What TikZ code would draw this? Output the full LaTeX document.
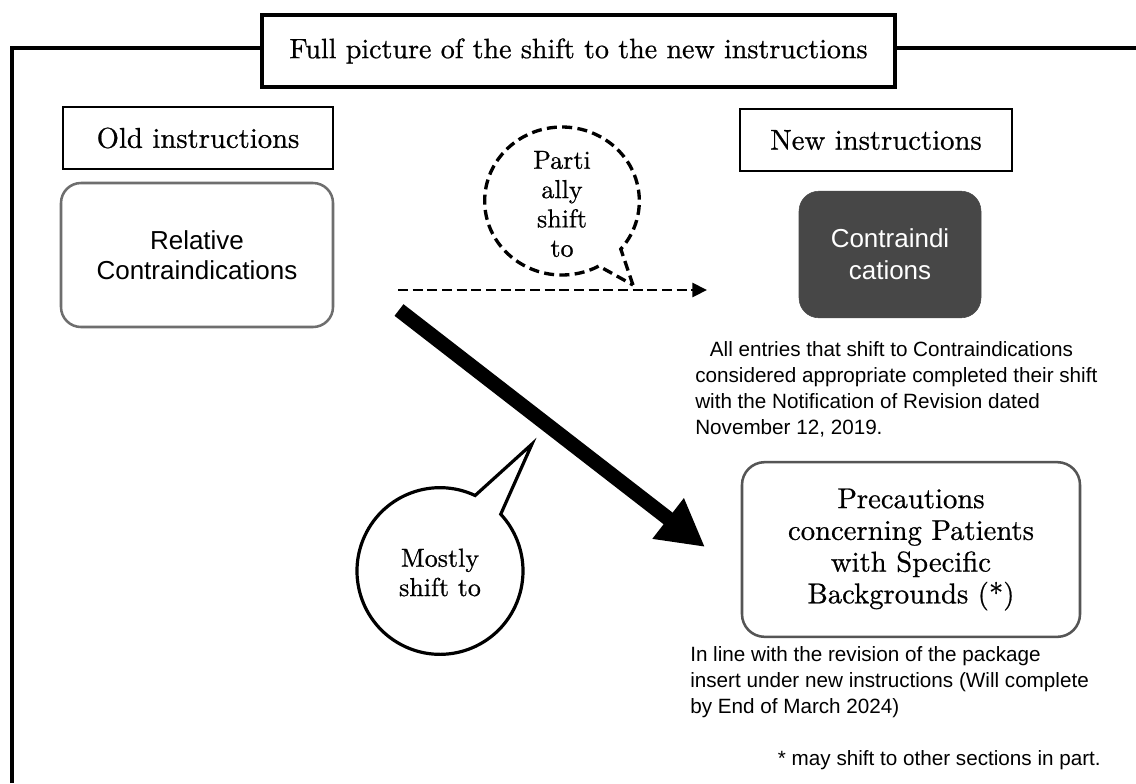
\documentclass[tikz,border=0pt]{standalone}
\usepackage{fontspec}
\setmainfont{lmroman10-regular.otf}[FakeBold=0.7]
\setsansfont{Liberation Sans}
\usetikzlibrary{arrows.meta,shapes.callouts}
\definecolor{darkfill}{HTML}{474747}
\definecolor{relgray}{HTML}{6E6E6E}
\definecolor{precgray}{HTML}{555555}
\begin{document}
\begin{tikzpicture}[x=0.75pt,y=-0.75pt,
  frame/.style={line width=2.3pt, black},
  titlebox/.style={draw, line width=3pt, fill=white, inner sep=0pt, font=\fontsize{21}{24}\selectfont},
  headbox/.style={draw, line width=1.7pt, inner sep=0pt, font=\fontsize{21.5}{24}\selectfont},
  relbox/.style={draw=relgray, line width=1.9pt, rounded corners=15pt, inner sep=0pt, align=center, font=\sffamily\fontsize{19.5}{22.5}\selectfont},
  darkbox/.style={fill=darkfill, draw=darkfill, rounded corners=15pt, inner sep=0pt, align=center, text=white, font=\sffamily\fontsize{19.5}{24}\selectfont},
  precbox/.style={draw=precgray, line width=1.9pt, rounded corners=17pt, inner sep=0pt, align=center, font=\fontsize{21.5}{23.8}\selectfont},
  bubbletext/.style={inner sep=0pt, align=center, font=\fontsize{19.5}{22}\selectfont},
  dashbubble/.style={ellipse callout, draw, line width=2.5pt, dash pattern=on 7.5pt off 4pt, inner sep=0pt, callout pointer arc=21},
  solidbubble/.style={ellipse callout, draw, line width=2.4pt, inner sep=0pt, callout pointer arc=22},
  note/.style={inner sep=0pt, align=left, font=\sffamily\fontsize{15.5}{19.5}\selectfont},
  dasharrow/.style={line width=2.2pt, dash pattern=on 7.5pt off 3.5pt, -{Triangle[length=11pt,width=10.5pt]}},
  bigarrow/.style={line width=11pt, -{Triangle[length=35pt,width=36pt]}}
]
\useasboundingbox[fill=white] (0,0) rectangle (1136,783);

% title and frame
\node[titlebox, minimum width=474.75pt, minimum height=54pt] (title) at (578.5,51) {Full picture of the shift to the new instructions};
\coordinate (fbl) at (12,783);
\coordinate (ftr) at (1136,48);
\draw[frame] (fbl) |- (title.west |- ftr);
\draw[frame] (title.east |- ftr) -- (ftr);

% headings
\node[headbox, minimum width=202.5pt, minimum height=46.5pt] (old) at (198,138) {Old instructions};
\node[headbox, minimum width=204pt, minimum height=46.5pt] (new) at (876,140) {New instructions};

% boxes
\node[relbox, minimum width=204pt, minimum height=108pt] (rel) at (197,255) {Relative\\Contraindications};
\node[darkbox, minimum width=136.5pt, minimum height=95pt] (contra) at (890,254.5) {Contraindi\\cations};
\node[precbox, minimum width=253.5pt, minimum height=131pt] (prec) at (911,549.5) {Precautions\\concerning Patients\\with Specific\\Backgrounds (*)};

% notes
\node[note, anchor=north west] (allnote) at (695,341) {\hspace*{11pt}All entries that shift to Contraindications\\considered appropriate completed their shift\\with the Notification of Revision dated\\November 12, 2019.};
\node[note, anchor=north west] (inline) at (690,646) {In line with the revision of the package\\insert under new instructions (Will complete\\by End of March 2024)};
\node[note, anchor=north east] (star) at (1101,750) {* may shift to other sections in part.};

% arrows
\coordinate (dS) at (398,290);
\coordinate (dE) at (707,290);
\draw[dasharrow] (dS) -- (dE);
\coordinate (bS) at (399,310);
\coordinate (bE) at (705,547);
\draw[bigarrow] (bS) -- (bE);

% bubbles
\coordinate (tipA) at (633,285);
\node[dashbubble, minimum width=116pt, minimum height=111pt, callout absolute pointer={(tipA)}] (bubA) at (562,201) {};
\node[bubbletext] (txtA) at (562,204) {Parti\\ally\\shift\\to};
\coordinate (tipB) at (532,444);
\node[solidbubble, minimum width=124.5pt, minimum height=125pt, callout absolute pointer={(tipB)}] (bubB) at (440,571) {};
\node[bubbletext] (txtB) at (440,572.5) {Mostly\\shift to};
\end{tikzpicture}
\end{document}
